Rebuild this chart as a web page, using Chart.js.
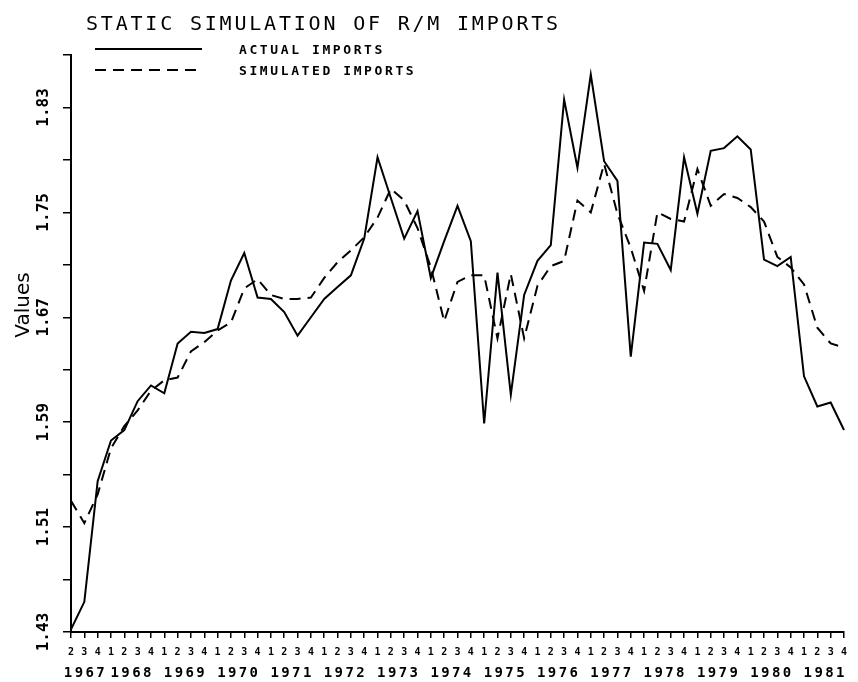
<!DOCTYPE html>
<html>
<head>
<meta charset="utf-8">
<title>Static simulation of R/M imports</title>
<script src="https://cdn.jsdelivr.net/npm/chart.js@4.4.0/dist/chart.umd.min.js"></script>
<style>
  html, body { margin: 0; padding: 0; background: #fff; }
  #wrap { width: 858px; height: 682px; position: relative; }
</style>
</head>
<body>
<div id="wrap"><canvas id="myChart"></canvas></div>
<script>
const chartTitle = 'STATIC SIMULATION OF R/M IMPORTS';

// quarter of each observation, 1967 Q2 .. 1981 Q4
const quarters = [
  '2','3','4',
  '1','2','3','4', '1','2','3','4', '1','2','3','4', '1','2','3','4',
  '1','2','3','4', '1','2','3','4', '1','2','3','4', '1','2','3','4',
  '1','2','3','4', '1','2','3','4', '1','2','3','4', '1','2','3','4',
  '1','2','3','4', '1','2','3','4'
];
const years = ['1967','1968','1969','1970','1971','1972','1973','1974',
  '1975','1976','1977','1978','1979','1980','1981'];

const actual = [
  1.432, 1.453, 1.545,
  1.576, 1.584, 1.606, 1.618,
  1.612, 1.650, 1.659, 1.658,
  1.661, 1.698, 1.719, 1.685,
  1.684, 1.674, 1.656, 1.670,
  1.684, 1.693, 1.702, 1.730,
  1.792, 1.761, 1.730, 1.751,
  1.700, 1.728, 1.755, 1.728,
  1.589, 1.704, 1.611, 1.687,
  1.713, 1.725, 1.836, 1.784,
  1.855, 1.789, 1.774, 1.640,
  1.727, 1.726, 1.706, 1.792,
  1.749, 1.797, 1.799, 1.808,
  1.798, 1.714, 1.709, 1.716,
  1.625, 1.602, 1.605, 1.584
];
const simulated = [
  1.530, 1.513, 1.535,
  1.570, 1.587, 1.599, 1.614,
  1.622, 1.624, 1.644, 1.651,
  1.660, 1.666, 1.692, 1.699,
  1.687, 1.684, 1.684, 1.685,
  1.700, 1.712, 1.721, 1.731,
  1.746, 1.768, 1.759, 1.738,
  1.708, 1.667, 1.697, 1.702,
  1.702, 1.654, 1.703, 1.654,
  1.694, 1.709, 1.713, 1.759,
  1.750, 1.787, 1.749, 1.723,
  1.690, 1.750, 1.745, 1.743,
  1.783, 1.755, 1.764, 1.761,
  1.754, 1.743, 1.716, 1.708,
  1.695, 1.662, 1.650, 1.647
];

const yTicks = [1.43, 1.47, 1.51, 1.55, 1.59, 1.63, 1.67, 1.71, 1.75, 1.79, 1.83, 1.87];
const yTickLabels = ['1.43', '', '1.51', '', '1.59', '', '1.67', '', '1.75', '', '1.83', ''];

const mono = '"DejaVu Sans Mono", monospace';

// title, legend, axis title and year row
const decor = {
  id: 'decor',
  afterDraw(chart) {
    const ctx = chart.ctx;
    ctx.save();
    ctx.fillStyle = '#000';
    ctx.strokeStyle = '#000';
    ctx.textAlign = 'left';
    ctx.textBaseline = 'alphabetic';

    ctx.font = '20px ' + mono;
    ctx.letterSpacing = '2.8px';
    ctx.fillText(chartTitle, 86, 30);

    ctx.font = 'bold 13px ' + mono;
    ctx.letterSpacing = '2.6px';
    chart.data.datasets.forEach((ds, k) => {
      const y = 49 + k * 21;
      ctx.beginPath();
      ctx.setLineDash(ds.borderDash || []);
      ctx.lineWidth = 2;
      ctx.moveTo(95, y);
      ctx.lineTo(202, y);
      ctx.stroke();
      ctx.fillText(ds.label, 239, y + 5);
    });
    ctx.setLineDash([]);

    // year labels under their quarters
    const xs = chart.scales.x;
    ctx.font = 'bold 14px ' + mono;
    ctx.letterSpacing = '2.4px';
    ctx.textAlign = 'center';
    let first = 0, n = 0;
    for (let i = 1; i <= quarters.length; i++) {
      if (i === quarters.length || quarters[i] === '1') {
        const cx = (xs.getPixelForValue(first) + xs.getPixelForValue(i - 1)) / 2;
        ctx.fillText(years[n], cx + 1.2, 677);
        first = i; n++;
      }
    }

    ctx.letterSpacing = '0px';
    ctx.font = '20px "DejaVu Sans", sans-serif';
    ctx.translate(24, 305);
    ctx.rotate(-Math.PI / 2);
    ctx.textBaseline = 'middle';
    ctx.fillText('Values', 0, 0);
    ctx.restore();
  }
};

const myChart = new Chart(document.getElementById('myChart').getContext('2d'), {
  type: 'line',
  data: {
    labels: quarters,
    datasets: [{
      label: 'ACTUAL IMPORTS',
      data: actual,
      borderColor: '#000',
      borderWidth: 2,
      pointRadius: 0,
      tension: 0,
      fill: false
    }, {
      label: 'SIMULATED IMPORTS',
      data: simulated,
      borderColor: '#000',
      borderWidth: 2,
      borderDash: [11, 7],
      pointRadius: 0,
      tension: 0,
      fill: false
    }]
  },
  options: {
    animation: false,
    responsive: true,
    maintainAspectRatio: false,
    devicePixelRatio: 1,
    layout: { padding: { top: 55, right: 14, left: 0, bottom: 0 } },
    plugins: {
      legend: { display: false },
      title: { display: false },
      tooltip: { enabled: false }
    },
    scales: {
      x: {
        grid: { drawOnChartArea: false, drawTicks: true, tickLength: 6, color: '#000', lineWidth: 1.5 },
        border: { display: true, color: '#000', width: 2 },
        ticks: {
          autoSkip: false, minRotation: 0, maxRotation: 0, padding: 8, color: '#000',
          font: { family: 'DejaVu Sans Mono', size: 10, weight: 'bold' }
        },
        afterFit(scale) { scale.height = 50; }
      },
      y: {
        min: 1.43,
        max: 1.87,
        afterBuildTicks(scale) { scale.ticks = yTicks.map(v => ({ value: v })); },
        grid: { drawOnChartArea: false, drawTicks: true, tickLength: 8, color: '#000', lineWidth: 1.5 },
        border: { display: true, color: '#000', width: 2 },
        ticks: {
          autoSkip: false, minRotation: 90, maxRotation: 90, crossAlign: 'center', padding: 0, color: '#000',
          font: { family: 'DejaVu Sans Mono', size: 16, weight: 'bold' },
          callback: (value, index) => yTickLabels[index]
        },
        afterFit(scale) { scale.width = 71; }
      }
    }
  },
  plugins: [decor]
});
</script>
</body>
</html>
